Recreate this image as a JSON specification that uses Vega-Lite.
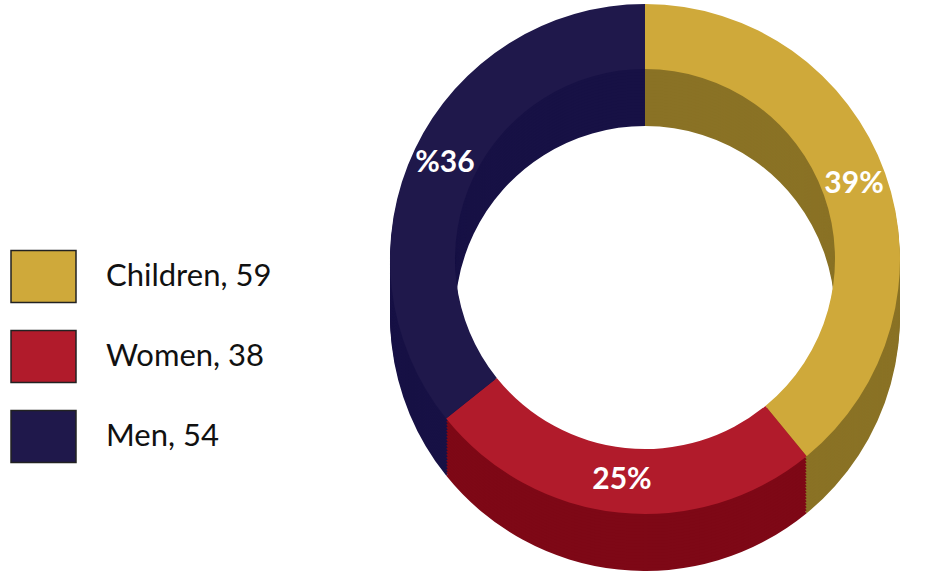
{
  "$schema": "https://vega.github.io/schema/vega-lite/v6.json",
  "autosize": "none",
  "width": 596,
  "height": 510,
  "padding": {"left": 347, "top": 4, "right": 0, "bottom": 57},
  "background": "#ffffff",
  "config": {"view": {"stroke": null}, "font": "Lato"},
  "data": {
    "values": [
      {"idx": 1, "group": "Children", "count": 59, "label": "Children, 59", "pct": "39%"},
      {"idx": 2, "group": "Women", "count": 38, "label": "Women, 38", "pct": "25%"},
      {"idx": 3, "group": "Men", "count": 54, "label": "Men, 54", "pct": "%36"}
    ]
  },
  "layer": [
    {"mark": {"type": "arc", "radius": 255, "innerRadius": 190, "yOffset": 57},
      "encoding": {"theta": {"field": "count", "type": "quantitative", "stack": true}, "order": {"field": "idx", "type": "quantitative"},
        "fill": {"field": "group", "type": "nominal", "legend": null, "scale": {"domain": ["Children", "Women", "Men"], "range": ["#8A7225", "#7E0816", "#171145"]}}}},
    {"mark": {"type": "arc", "radius": 255, "innerRadius": 190, "yOffset": 54},
      "encoding": {"theta": {"field": "count", "type": "quantitative", "stack": true}, "order": {"field": "idx", "type": "quantitative"}, "fill": {"field": "group", "type": "nominal", "legend": null}}},
    {"mark": {"type": "arc", "radius": 255, "innerRadius": 190, "yOffset": 51},
      "encoding": {"theta": {"field": "count", "type": "quantitative", "stack": true}, "order": {"field": "idx", "type": "quantitative"}, "fill": {"field": "group", "type": "nominal", "legend": null}}},
    {"mark": {"type": "arc", "radius": 255, "innerRadius": 190, "yOffset": 48},
      "encoding": {"theta": {"field": "count", "type": "quantitative", "stack": true}, "order": {"field": "idx", "type": "quantitative"}, "fill": {"field": "group", "type": "nominal", "legend": null}}},
    {"mark": {"type": "arc", "radius": 255, "innerRadius": 190, "yOffset": 45},
      "encoding": {"theta": {"field": "count", "type": "quantitative", "stack": true}, "order": {"field": "idx", "type": "quantitative"}, "fill": {"field": "group", "type": "nominal", "legend": null}}},
    {"mark": {"type": "arc", "radius": 255, "innerRadius": 190, "yOffset": 42},
      "encoding": {"theta": {"field": "count", "type": "quantitative", "stack": true}, "order": {"field": "idx", "type": "quantitative"}, "fill": {"field": "group", "type": "nominal", "legend": null}}},
    {"mark": {"type": "arc", "radius": 255, "innerRadius": 190, "yOffset": 39},
      "encoding": {"theta": {"field": "count", "type": "quantitative", "stack": true}, "order": {"field": "idx", "type": "quantitative"}, "fill": {"field": "group", "type": "nominal", "legend": null}}},
    {"mark": {"type": "arc", "radius": 255, "innerRadius": 190, "yOffset": 36},
      "encoding": {"theta": {"field": "count", "type": "quantitative", "stack": true}, "order": {"field": "idx", "type": "quantitative"}, "fill": {"field": "group", "type": "nominal", "legend": null}}},
    {"mark": {"type": "arc", "radius": 255, "innerRadius": 190, "yOffset": 33},
      "encoding": {"theta": {"field": "count", "type": "quantitative", "stack": true}, "order": {"field": "idx", "type": "quantitative"}, "fill": {"field": "group", "type": "nominal", "legend": null}}},
    {"mark": {"type": "arc", "radius": 255, "innerRadius": 190, "yOffset": 30},
      "encoding": {"theta": {"field": "count", "type": "quantitative", "stack": true}, "order": {"field": "idx", "type": "quantitative"}, "fill": {"field": "group", "type": "nominal", "legend": null}}},
    {"mark": {"type": "arc", "radius": 255, "innerRadius": 190, "yOffset": 27},
      "encoding": {"theta": {"field": "count", "type": "quantitative", "stack": true}, "order": {"field": "idx", "type": "quantitative"}, "fill": {"field": "group", "type": "nominal", "legend": null}}},
    {"mark": {"type": "arc", "radius": 255, "innerRadius": 190, "yOffset": 24},
      "encoding": {"theta": {"field": "count", "type": "quantitative", "stack": true}, "order": {"field": "idx", "type": "quantitative"}, "fill": {"field": "group", "type": "nominal", "legend": null}}},
    {"mark": {"type": "arc", "radius": 255, "innerRadius": 190, "yOffset": 21},
      "encoding": {"theta": {"field": "count", "type": "quantitative", "stack": true}, "order": {"field": "idx", "type": "quantitative"}, "fill": {"field": "group", "type": "nominal", "legend": null}}},
    {"mark": {"type": "arc", "radius": 255, "innerRadius": 190, "yOffset": 18},
      "encoding": {"theta": {"field": "count", "type": "quantitative", "stack": true}, "order": {"field": "idx", "type": "quantitative"}, "fill": {"field": "group", "type": "nominal", "legend": null}}},
    {"mark": {"type": "arc", "radius": 255, "innerRadius": 190, "yOffset": 15},
      "encoding": {"theta": {"field": "count", "type": "quantitative", "stack": true}, "order": {"field": "idx", "type": "quantitative"}, "fill": {"field": "group", "type": "nominal", "legend": null}}},
    {"mark": {"type": "arc", "radius": 255, "innerRadius": 190, "yOffset": 12},
      "encoding": {"theta": {"field": "count", "type": "quantitative", "stack": true}, "order": {"field": "idx", "type": "quantitative"}, "fill": {"field": "group", "type": "nominal", "legend": null}}},
    {"mark": {"type": "arc", "radius": 255, "innerRadius": 190, "yOffset": 9},
      "encoding": {"theta": {"field": "count", "type": "quantitative", "stack": true}, "order": {"field": "idx", "type": "quantitative"}, "fill": {"field": "group", "type": "nominal", "legend": null}}},
    {"mark": {"type": "arc", "radius": 255, "innerRadius": 190, "yOffset": 6},
      "encoding": {"theta": {"field": "count", "type": "quantitative", "stack": true}, "order": {"field": "idx", "type": "quantitative"}, "fill": {"field": "group", "type": "nominal", "legend": null}}},
    {"mark": {"type": "arc", "radius": 255, "innerRadius": 190, "yOffset": 3},
      "encoding": {"theta": {"field": "count", "type": "quantitative", "stack": true}, "order": {"field": "idx", "type": "quantitative"}, "fill": {"field": "group", "type": "nominal", "legend": null}}},
    {
      "mark": {"type": "arc", "radius": 255, "innerRadius": 190},
      "encoding": {
        "theta": {"field": "count", "type": "quantitative", "stack": true},
        "order": {"field": "idx", "type": "quantitative"},
        "color": {"field": "label", "type": "nominal",
          "scale": {"domain": ["Children, 59", "Women, 38", "Men, 54"], "range": ["#CFA93A", "#B11B2B", "#1F184B"]},
          "legend": {
            "title": null,
            "orient": "none",
            "legendX": -337,
            "legendY": 239,
            "symbolType": "M-1,-0.8H1V0.8H-1Z",
            "symbolSize": 4225,
            "symbolStrokeColor": "#222222",
            "symbolStrokeWidth": 1.5,
            "symbolOpacity": 1,
            "rowPadding": 17,
            "labelOffset": 29,
            "labelFontSize": 31,
            "labelFont": "Lato",
            "labelColor": "#111111",
            "labelLimit": 400,
            "padding": 0
          }}
      }
    },
    {
      "mark": {"type": "text", "radius": 222, "font": "Lato", "fontWeight": "bold", "fontSize": 30, "color": "#ffffff"},
      "encoding": {
        "theta": {"field": "count", "type": "quantitative", "stack": true},
        "order": {"field": "idx", "type": "quantitative"},
        "text": {"field": "pct", "type": "nominal"}
      }
    }
  ]
}
